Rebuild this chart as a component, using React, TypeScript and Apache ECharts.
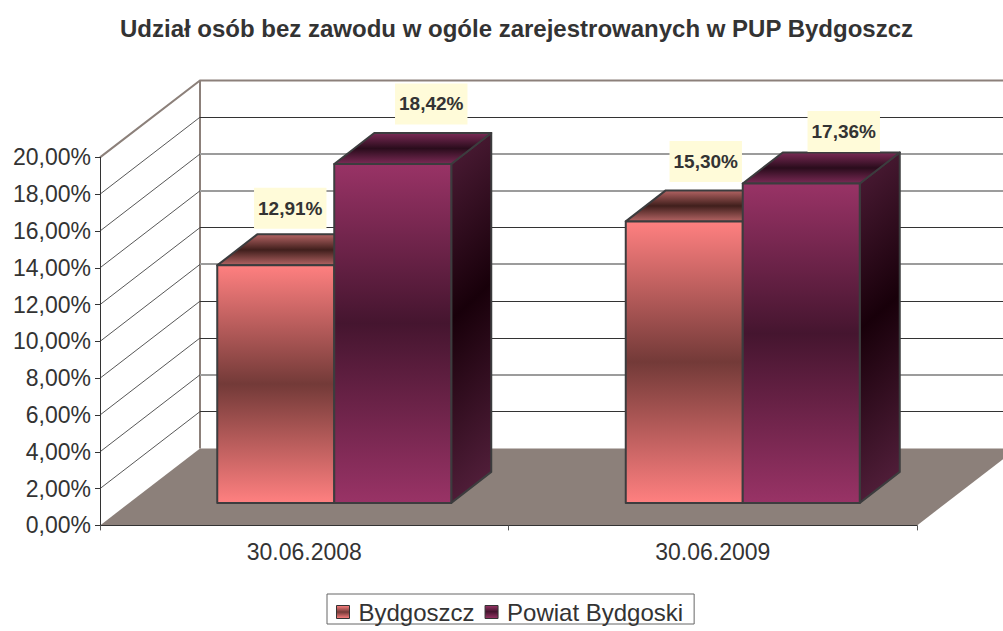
import React, { useEffect, useRef } from "react";
import * as echarts from "echarts";

const categories = ["30.06.2008", "30.06.2009"];
const bydgoszcz = [12.91, 15.3];
const powiat = [18.42, 17.36];
const labelsA = ["12,91%", "15,30%"];
const labelsB = ["18,42%", "17,36%"];
const ticks = [0, 2, 4, 6, 8, 10, 12, 14, 16, 18, 20];
const softTicks = [16, 14, 10, 4];
const labelOffsetsA = [[-44, -57], [-37, -60]];
const labelOffsetsB = [[97, -60], [101, -52]];

const FONT = '"Liberation Sans", Arial, sans-serif';
const DX = 100, DY = -77;
const BAR_DX = 40, BAR_DY = -31;
const SHIFT_X = 30, SHIFT_Y = -22.5;
const BAR_W = 117;
const EDGE = "#3c3c3e";
const WALL = "#8c807a";

const grad = (a: string, b: string, c: string, mid = 0.5, x2 = 0) => ({
  type: "linear", x: 0, y: 0, x2, y2: 1,
  colorStops: [
    { offset: 0, color: a },
    { offset: mid, color: b },
    { offset: 1, color: c },
  ],
});

const faces = [
  {
    front: grad("#ff8080", "#733a38", "#ff8080"),
    top: grad("#b46464", "#401f1c", "#b46464"),
    side: grad("#803f3f", "#3a1a1a", "#803f3f"),
  },
  {
    front: grad("#993366", "#45152f", "#993366", 0.47),
    top: grad("#7a2a55", "#2a0c1c", "#7a2a55"),
    side: grad("#4f1d38", "#18000a", "#4f1d38", 0.5, 0.1),
  },
];

const barSeries = (name: string, values: number[], idx: number) => ({
  name,
  type: "custom",
  z: 3 + idx,
  itemStyle: { color: faces[idx].front },
  data: values.map((v, i) => [i, v]),
  renderItem: (_p: any, api: any) => {
    const cat = api.value(0);
    const val = api.value(1);
    const top = api.coord([cat, val]);
    const base = api.coord([cat, 0]);
    const x0 = top[0] + SHIFT_X + (idx === 0 ? -BAR_W : 0);
    const x1 = x0 + BAR_W;
    const yt = top[1] + SHIFT_Y;
    const yb = base[1] + SHIFT_Y;
    const stroke = { stroke: EDGE, lineWidth: 2, lineJoin: "round" };
    return {
      type: "group",
      children: [
        { type: "polygon", shape: { points: [[x1, yt], [x1 + BAR_DX, yt + BAR_DY], [x1 + BAR_DX, yb + BAR_DY], [x1, yb]] }, style: { fill: faces[idx].side, ...stroke } },
        { type: "polygon", shape: { points: [[x0, yt], [x1, yt], [x1 + BAR_DX, yt + BAR_DY], [x0 + BAR_DX, yt + BAR_DY]] }, style: { fill: faces[idx].top, ...stroke } },
        { type: "rect", shape: { x: x0, y: yt, width: BAR_W, height: yb - yt }, style: { fill: faces[idx].front, ...stroke } },
      ],
    };
  },
});

const labelSeries = (values: number[], texts: string[], offsets: number[][]) => ({
  type: "custom",
  z: 8,
  data: values.map((v, i) => [i, v]),
  renderItem: (p: any, api: any) => {
    const c = api.coord([api.value(0), api.value(1)]);
    const off = offsets[p.dataIndex];
    return {
      type: "text",
      x: c[0] + SHIFT_X + off[0],
      y: c[1] + SHIFT_Y + off[1],
      style: {
        text: texts[p.dataIndex],
        align: "center",
        verticalAlign: "middle",
        fill: "#333333",
        font: `bold 19px ${FONT}`,
        backgroundColor: "#fffbd9",
        padding: [11, 4],
      },
    };
  },
});

export default function App() {
  const ref = useRef<HTMLDivElement>(null);
  useEffect(() => {
    document.body.style.margin = "0";
    const chart = echarts.init(ref.current!, null, { renderer: "svg" });
    chart.setOption({
      animation: false,
      backgroundColor: "#ffffff",
      title: {
        text: "Udział osób bez zawodu w ogóle zarejestrowanych w PUP Bydgoszcz",
        left: 516.5, top: 16, textAlign: "center", padding: 0,
        textStyle: { fontFamily: FONT, fontSize: 24, fontWeight: "bold", color: "#333333" },
      },
      legend: {
        left: 327, top: 594,
        data: ["Bydgoszcz", "Powiat Bydgoski"],
        orient: "horizontal",
        itemWidth: 13, itemHeight: 13, itemGap: 10,
        borderColor: "#666666", borderWidth: 1, padding: [6, 11, 0, 9],
        textStyle: { fontFamily: FONT, fontSize: 24, color: "#333333", padding: [0, 0, 6, 4] },
        icon: "rect",
        itemStyle: { borderColor: "#333333", borderWidth: 1 },
      },
      grid: { left: 100, top: 157.4, width: 817, height: 368 },
      xAxis: {
        type: "category", data: categories, z: 6,
        axisLine: { lineStyle: { color: "#333333", width: 1 } },
        axisTick: { show: true, length: 5, lineStyle: { color: "#555555" } },
        axisLabel: { fontFamily: FONT, fontSize: 23, color: "#333333", margin: 15 },
      },
      yAxis: {
        type: "value", min: 0, max: 20, interval: 2, z: 6,
        splitLine: { show: false },
        axisLine: { show: true, lineStyle: { color: "#333333", width: 1 } },
        axisTick: { show: true, length: 5, lineStyle: { color: "#333333" } },
        axisLabel: {
          fontFamily: FONT, fontSize: 23, color: "#333333", margin: 9,
          formatter: (v: number) => v.toFixed(2).replace(".", ",") + "%",
        },
      },
      series: [
        {
          type: "custom", z: 1,
          data: ticks.map((t) => [0, t]),
          renderItem: (p: any, api: any) => {
            const cs = p.coordSys;
            const v = api.value(1);
            const y = api.coord([0, v])[1];
            const x = cs.x;
            const soft = softTicks.indexOf(v) >= 0;
            const yBack = y + DY;
            const children: any[] = [];
            if (v === 0) {
              children.push({
                type: "polygon",
                shape: { points: [[x, y], [x + cs.width, y], [x + cs.width + DX, yBack], [x + DX, yBack]] },
                style: { fill: WALL },
              });
              children.push({
                type: "line",
                shape: { x1: x + DX, y1: yBack, x2: x + DX, y2: yBack + (cs.y - y) },
                style: { stroke: WALL, lineWidth: 2 },
              });
            } else if (v === 20) {
              children.push({
                type: "polyline",
                shape: { points: [[x, y], [x + DX, yBack], [1003, yBack]] },
                style: { stroke: WALL, lineWidth: 2, fill: "none" },
              });
            } else {
              children.push({
                type: "line",
                shape: { x1: x, y1: y, x2: x + DX, y2: yBack },
                style: { stroke: "#444444", lineWidth: 0.9 },
              });
              const yLine = soft ? Math.round(yBack) : Math.floor(yBack) + 0.5;
              children.push({
                type: "line",
                shape: { x1: x + DX, y1: yLine, x2: 1003, y2: yLine },
                style: { stroke: soft ? "#9c9c9c" : "#333333", lineWidth: soft ? 2 : 1 },
              });
            }
            return { type: "group", children };
          },
        },
        barSeries("Bydgoszcz", bydgoszcz, 0),
        barSeries("Powiat Bydgoski", powiat, 1),
        labelSeries(bydgoszcz, labelsA, labelOffsetsA),
        labelSeries(powiat, labelsB, labelOffsetsB),
      ],
    });
    return () => chart.dispose();
  }, []);
  return <div ref={ref} style={{ position: "absolute", left: 0, top: 0, width: 1003, height: 631 }} />;
}
